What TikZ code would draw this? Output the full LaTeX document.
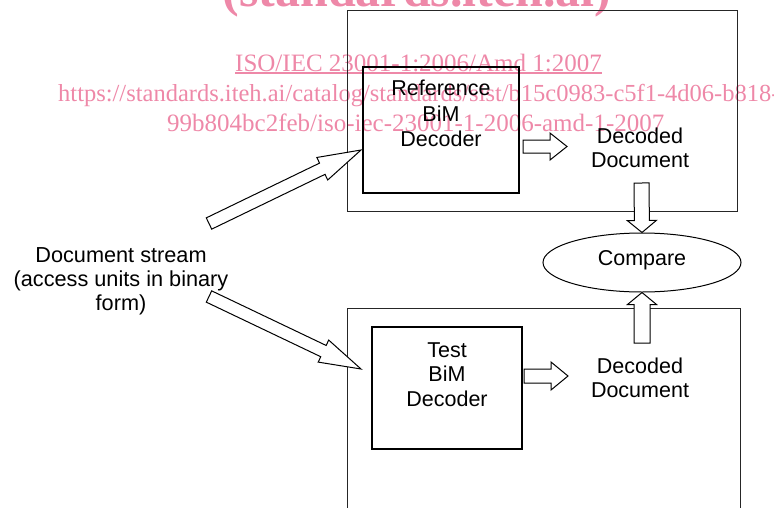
\documentclass[tikz,border=0pt]{standalone}
\usepackage{fontspec}
\setmainfont{Liberation Sans}
\newfontfamily\wmfont{Liberation Serif}
\usetikzlibrary{calc,shapes.geometric}
\definecolor{wmpink}{RGB}{238,136,168}

% Hollow block arrow from #1 to #2: shaft half-width #3, head half-width #4, head length #5
\newcommand\fatarrow[5]{%
  \coordinate (fa-s) at (#1);
  \coordinate (fa-t) at (#2);
  \coordinate (fa-b) at ($(fa-t)!#5!(fa-s)$);
  \draw[blockarrow]
    ($(fa-s)!#3!90:(fa-t)$) -- ($(fa-b)!#3!-90:(fa-s)$) -- ($(fa-b)!#4!-90:(fa-s)$)
    -- (fa-t)
    -- ($(fa-b)!#4!90:(fa-s)$) -- ($(fa-b)!#3!90:(fa-s)$) -- ($(fa-s)!#3!-90:(fa-t)$) -- cycle;
}

\begin{document}
\begin{tikzpicture}[x=1pt,y=-1pt,
  label/.style={font=\fontsize{21.5}{24.8}\selectfont, align=center, inner sep=0pt},
  outerbox/.style={draw=black!85, line width=0.9pt, inner sep=0pt},
  decbox/.style={draw=black, line width=1.4pt, inner sep=0pt},
  blockarrow/.style={draw=black, line width=1pt, fill=white, line join=miter},
  wm/.style={text=wmpink, inner sep=0pt}]
\useasboundingbox (0,0) rectangle (774,507);

% watermark lines
\node[wm, font=\wmfont\bfseries\fontsize{50}{60}\selectfont, anchor=base] (wmT) at (417,6) {(standards.iteh.ai)};
\node[wm, font=\wmfont\fontsize{25}{30}\selectfont, anchor=base west] (wmA) at (235,71) {ISO/IEC 23001-1:2006/Amd 1:2007};
\draw[wmpink, line width=1.2pt] ($(wmA.base west)+(0,2)$) -- ($(wmA.base east)+(0,2)$);
\node[wm, font=\wmfont\fontsize{24.5}{30}\selectfont, anchor=base west] (wmB) at (58,101) {https://standards.iteh.ai/catalog/standards/sist/b15c0983-c5f1-4d06-b818-};
\node[wm, font=\wmfont\fontsize{25}{30}\selectfont, anchor=base west] (wmC) at (167,131) {99b804bc2feb/iso-iec-23001-1-2006-amd-1-2007};

% reference and test systems
\node[outerbox, minimum width=390pt, minimum height=201pt] (refsys) at (542,110.5) {};
\node[outerbox, minimum width=393pt, minimum height=240pt] (testsys) at (543.5,428) {};

\node[decbox, minimum width=156pt, minimum height=126pt] (refdec) at (441,130) {};
\node[label, font=\fontsize{21.5}{25.5}\selectfont] (reftxt) at (441,113.8) {Reference\\BiM\\Decoder};
\node[decbox, minimum width=150pt, minimum height=122pt] (testdec) at (447,388) {};
\node[label] (testtxt) at (447,374.6) {Test\\BiM\\Decoder};

\node[label] (refout) at (640,147.9) {Decoded\\Document};
\node[label] (testout) at (640,377.9) {Decoded\\Document};

\node[draw=black, line width=1pt, ellipse, minimum width=198pt, minimum height=59pt,
      inner sep=0pt, font=\fontsize{21.5}{24.8}\selectfont,
      text height=15.4pt, text depth=10.4pt] (cmp) at (642,262.5) {Compare};

\node[label, font=\fontsize{21.7}{24}\selectfont] (stream) at (121,281.5) {Document stream\\(access units in binary\\form)};

% connector end points
\coordinate (srcA) at (209,223.5);
\coordinate (srcB) at (209,296.5);
\coordinate (refin) at (361,150);
\coordinate (testin) at (361,369);
\coordinate (refoutA) at (523,146.5);
\coordinate (refoutB) at (567,146.5);
\coordinate (testoutA) at (524,376);
\coordinate (testoutB) at (568,376);
\coordinate (downA) at (641.5,183);
\coordinate (upA) at (642,343);

% block arrows
\fatarrow{srcA}{refin}{6.25pt}{12.5pt}{43pt}
\fatarrow{srcB}{testin}{6.25pt}{12.2pt}{41.6pt}
\fatarrow{refoutA}{refoutB}{6.5pt}{13.5pt}{17pt}
\fatarrow{testoutA}{testoutB}{7pt}{14pt}{17pt}
\fatarrow{downA}{cmp.north}{7.5pt}{14.5pt}{12pt}
\fatarrow{upA}{cmp.south}{8pt}{14.5pt}{12pt}
\end{tikzpicture}
\end{document}
